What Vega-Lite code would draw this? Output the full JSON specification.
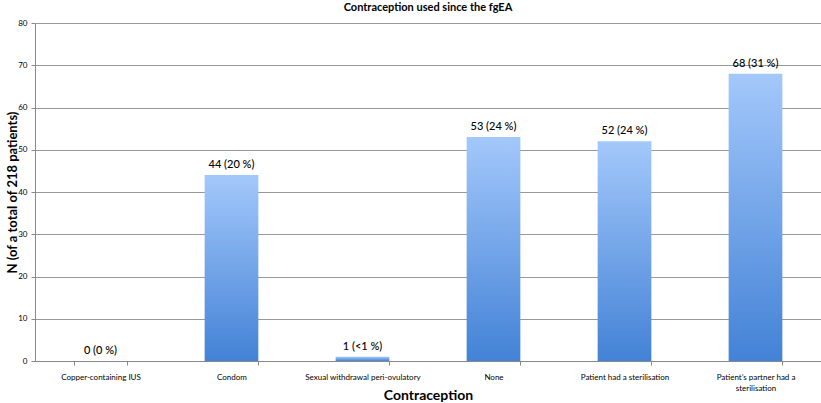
{
  "$schema": "https://vega.github.io/schema/vega-lite/v6.json",
  "width": 786,
  "height": 338,
  "autosize": {"type": "none"},
  "padding": {"left": 35, "top": 23, "right": 0, "bottom": 42},
  "background": "white",
  "title": {"text": "Contraception used since the fgEA", "font": "Lato", "fontSize": 11, "fontWeight": "bold", "color": "#000", "offset": 6, "anchor": "middle"},
  "config": {"view": {"stroke": null}, "font": "Lato"},
  "data": {"values": [
    {"cat": "Copper-containing IUS", "n": 0, "label": "0 (0 %)"},
    {"cat": "Condom", "n": 44, "label": "44 (20 %)"},
    {"cat": "Sexual withdrawal peri-ovulatory", "n": 1, "label": "1 (<1 %)"},
    {"cat": "None", "n": 53, "label": "53 (24 %)"},
    {"cat": "Patient had a sterilisation", "n": 52, "label": "52 (24 %)"},
    {"cat": "Patient's partner had a sterilisation", "n": 68, "label": "68 (31 %)"}
  ]},
  "encoding": {
    "x": {"field": "cat", "type": "nominal", "sort": null,
      "scale": {"paddingInner": 0.59, "paddingOuter": 0.295},
      "axis": {"title": "Contraception", "titleFont": "Lato", "titleFontSize": 14, "titleFontWeight": "bold", "titleColor": "#000",
        "titleY": 34, "titleBaseline": "middle",
        "labelAngle": 0, "labelFontSize": 8, "labelColor": "#000", "labelFont": "Lato", "labelPadding": 8, "labelLineHeight": 11,
        "labelExpr": "datum.value == \"Patient's partner had a sterilisation\" ? ['Patient’s partner had a', 'sterilisation'] : datum.value",
        "tickBand": "extent", "tickSize": 4, "tickColor": "#888", "domainColor": "#888", "labelLimit": 200}},
    "y": {"field": "n", "type": "quantitative",
      "scale": {"domain": [0, 80]},
      "axis": {"title": "N (of a total of 218 patients)", "titleFont": "Lato", "titleFontSize": 13, "titleFontWeight": "bold", "titleColor": "#000",
        "titleX": -23, "titleY": 169, "titleAngle": -90, "titleBaseline": "middle", "titleAlign": "center",
        "values": [0,10,20,30,40,50,60,70,80], "labelFontSize": 8, "labelColor": "#000", "labelFont": "Lato", "labelPadding": 4,
        "tickSize": 4, "tickColor": "#888", "domainColor": "#888", "gridColor": "#999", "gridWidth": 1}}
  },
  "layer": [
    {"mark": {"type": "bar", "color": {"gradient": "linear", "x1": 0, "y1": 0, "x2": 0, "y2": 1, "stops": [{"offset": 0, "color": "#a3c8fb"}, {"offset": 1, "color": "#4382d6"}]}}},
    {"mark": {"type": "text", "baseline": "bottom", "dy": -5, "fontSize": 11, "font": "Lato", "fontWeight": 500, "color": "#000"},
      "encoding": {"text": {"field": "label"}}}
  ]
}
